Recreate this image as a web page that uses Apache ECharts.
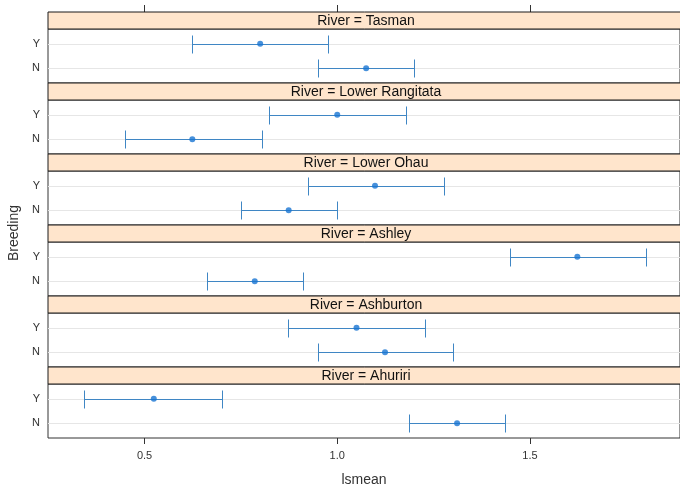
<!DOCTYPE html>
<html>
<head>
<meta charset="utf-8">
<script src="https://cdn.jsdelivr.net/npm/echarts@6/dist/echarts.min.js"></script>
<style>html,body{margin:0;padding:0;background:#fff}#c{width:680px;height:490px}</style>
</head>
<body>
<div id="c"></div>
<script>
// ---- data ----
const rivers = ['Tasman', 'Lower Rangitata', 'Lower Ohau', 'Ashley', 'Ashburton', 'Ahuriri'];
const breeding = ['N', 'Y'];
const meanY  = [0.800, 1.000, 1.098, 1.623, 1.050, 0.524];
const lowerY = [0.622, 0.824, 0.924, 1.448, 0.872, 0.343];
const upperY = [0.977, 1.178, 1.278, 1.800, 1.228, 0.701];
const meanN  = [1.075, 0.624, 0.874, 0.786, 1.124, 1.311];
const lowerN = [0.950, 0.450, 0.750, 0.662, 0.950, 1.187];
const upperN = [1.200, 0.804, 1.000, 0.912, 1.301, 1.436];
const xTicks = [0.5, 1.0, 1.5];
const xTitle = 'lsmean';
const yTitle = 'Breeding';

// ---- layout ----
const FONT = 'Liberation Sans, Arial, sans-serif';
const L = 48, TOP0 = 12, PER = 71, STRIP = 17, PANEL = PER - STRIP;
const xMin = 0.2495, xMax = 1.8894;
const yMin = 0.4, yMax = 2.6;
const n = rivers.length;
const crisp = v => Math.round(v) + 0.5;

const chart = echarts.init(document.getElementById('c'), null, {renderer: 'canvas'});

const grids = [], xAxes = [], yAxes = [], series = [], graphics = [];

for (let i = 0; i < n; i++) {
  const stripTop = TOP0 + i * PER;
  grids.push({
    left: L, right: -1, top: stripTop + STRIP, height: PANEL,
    show: true, backgroundColor: '#fff', borderColor: '#333', borderWidth: 1
  });
  const isBottom = i === n - 1;
  xAxes.push({
    type: 'value', gridIndex: i, min: xMin, max: xMax, position: 'bottom',
    axisLine: {show: false}, splitLine: {show: false},
    axisTick: {show: isBottom, customValues: xTicks, length: 6, lineStyle: {color: '#333'}},
    axisLabel: {show: isBottom, customValues: xTicks, formatter: v => Number(v).toFixed(1),
      fontFamily: FONT, fontSize: 11, color: '#333', margin: 12},
    name: isBottom ? xTitle : '', nameLocation: 'middle', nameGap: 35,
    nameTextStyle: {fontFamily: FONT, fontSize: 14, color: '#333'}
  });
  yAxes.push({
    type: 'value', gridIndex: i, min: yMin, max: yMax,
    axisLine: {show: false}, splitLine: {show: false}, axisTick: {show: false},
    axisLabel: {customValues: [1, 2], formatter: v => breeding[Math.round(v) - 1] || '',
      fontFamily: FONT, fontSize: 11, color: '#333', margin: 8}
  });
  // reference grid lines at each level
  series.push({
    type: 'custom', xAxisIndex: i, yAxisIndex: i, silent: true, z: 1,
    data: breeding.map((b, k) => [k + 1]),
    encode: {y: 0},
    renderItem: (params, api) => {
      const y = api.value(0);
      const p1 = api.coord([xMin, y]), p2 = api.coord([xMax, y]);
      const yy = crisp(p1[1]);
      return {type: 'line', shape: {x1: p1[0], y1: yy, x2: p2[0], y2: yy},
        style: {stroke: '#e6e6e6', lineWidth: 1}};
    }
  });
  // error bars
  series.push({
    type: 'custom', xAxisIndex: i, yAxisIndex: i, silent: true, z: 2,
    data: [[lowerN[i], upperN[i], 1], [lowerY[i], upperY[i], 2]],
    encode: {x: [0, 1], y: 2},
    renderItem: (params, api) => {
      const lo = api.coord([api.value(0), api.value(2)]);
      const hi = api.coord([api.value(1), api.value(2)]);
      const y = crisp(lo[1]), x1 = crisp(lo[0]), x2 = crisp(hi[0]);
      const h = 9;
      const st = {stroke: '#3f86c4', lineWidth: 1};
      return {type: 'group', children: [
        {type: 'line', shape: {x1: x1, y1: y, x2: x2, y2: y}, style: st},
        {type: 'line', shape: {x1: x1, y1: y - h, x2: x1, y2: y + h}, style: st},
        {type: 'line', shape: {x1: x2, y1: y - h, x2: x2, y2: y + h}, style: st}
      ]};
    }
  });
  // means
  series.push({
    type: 'scatter', xAxisIndex: i, yAxisIndex: i, z: 3,
    symbol: 'circle', symbolSize: 6,
    itemStyle: {color: '#1874d2'},
    data: [[meanN[i], 1], [meanY[i], 2]]
  });
  // strip
  graphics.push({
    type: 'rect', shape: {x: L, y: stripTop, width: 680 - L + 2, height: STRIP},
    style: {fill: '#ffe5cc', stroke: '#1a1a1a', lineWidth: 1}, z: 10
  });
  graphics.push({
    type: 'text', x: 366, y: stripTop + STRIP / 2 + 0.5, z: 11,
    style: {text: 'River = ' + rivers[i], fill: '#111', font: '14px ' + FONT,
      align: 'center', verticalAlign: 'middle'}
  });
}
// top axis ticks on first panel (above the strip)
xAxes.push({
  type: 'value', gridIndex: 0, min: xMin, max: xMax, position: 'top', offset: STRIP,
  axisLine: {show: false}, splitLine: {show: false},
  axisTick: {show: true, customValues: xTicks, length: 7, lineStyle: {color: '#333'}},
  axisLabel: {show: false}
});

graphics.push({
  type: 'text', x: 14, y: 233, rotation: Math.PI / 2, z: 11,
  style: {text: yTitle, fill: '#333', font: '14px ' + FONT, align: 'center', verticalAlign: 'middle'}
});

chart.setOption({
  animation: false,
  backgroundColor: '#fff',
  grid: grids, xAxis: xAxes, yAxis: yAxes, series: series, graphic: graphics
});
</script>
</body>
</html>
